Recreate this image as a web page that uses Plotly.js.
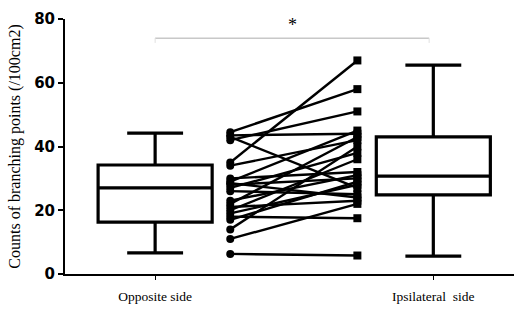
<!DOCTYPE html>
<html><head><meta charset="utf-8">
<script src="https://cdn.plot.ly/plotly-3.0.1.min.js"></script>
<style>html,body{margin:0;padding:0;background:#fff}#chart{width:514px;height:309px}</style>
</head><body><div id="chart"></div>
<script>
// Categories
const categories = ["Opposite side", "Ipsilateral  side"];
// Box summary values (Opposite, Ipsilateral)
const boxMin = [6.6, 5.6];
const boxQ1 = [16.3, 24.8];
const boxMedian = [27.0, 30.7];
const boxQ3 = [34.2, 43.0];
const boxMax = [44.2, 65.5];
// Paired individual values
const oppositeValues = [44.5, 43.5, 42, 43, 35, 34, 30, 29, 28.5, 28, 27, 26, 23, 22, 21, 20, 19, 18, 17, 14, 11, 6.3];
const ipsilateralValues = [58, 44, 51, 27, 67, 42, 32, 45, 24, 30, 38, 25, 31, 43, 23, 36, 28, 17.5, 29, 40, 22, 5.8];
const yTicks = [0, 20, 40, 60, 80];
const yTickLabels = ["0", "20", "40", "60", "80"];

const boxPos = [0, 1];
const pairPos = [0.27, 0.727];

const traces = [];
for (let i = 0; i < 2; i++) {
  traces.push({
    type: 'box', x: [boxPos[i]],
    q1: [boxQ1[i]], median: [boxMedian[i]], q3: [boxQ3[i]],
    lowerfence: [boxMin[i]], upperfence: [boxMax[i]],
    width: 0.41, whiskerwidth: 0.49,
    line: {color: '#000', width: 3.2}, fillcolor: '#fff',
    boxpoints: false, hoverinfo: 'skip', showlegend: false
  });
}
const lx = [], ly = [];
oppositeValues.forEach((v, i) => {
  lx.push(pairPos[0], pairPos[1], null);
  ly.push(v, ipsilateralValues[i], null);
});
traces.push({type: 'scatter', mode: 'lines', x: lx, y: ly, line: {color: '#000', width: 2.4}, showlegend: false, hoverinfo: 'skip'});
traces.push({type: 'scatter', mode: 'markers', x: oppositeValues.map(() => pairPos[0]), y: oppositeValues,
  marker: {symbol: 'circle', size: 8, color: '#000'}, showlegend: false, hoverinfo: 'skip'});
traces.push({type: 'scatter', mode: 'markers', x: ipsilateralValues.map(() => pairPos[1]), y: ipsilateralValues,
  marker: {symbol: 'square', size: 8, color: '#000'}, showlegend: false, hoverinfo: 'skip'});

const layout = {
  width: 514, height: 309,
  margin: {l: 65, r: 0, t: 19, b: 35},
  paper_bgcolor: '#fff', plot_bgcolor: '#fff',
  font: {color: '#000'},
  xaxis: {
    range: [-0.324, 1.29], tickvals: boxPos, ticktext: categories,
    showgrid: false, zeroline: false, showline: true, linecolor: '#000', linewidth: 2,
    ticks: 'outside', ticklen: 4, tickwidth: 1, tickcolor: '#000', ticklabelstandoff: 5,
    tickfont: {family: 'Liberation Serif', size: 13.5, color: '#000'}
  },
  yaxis: {
    range: [0, 80], tickvals: yTicks, ticktext: yTickLabels,
    showgrid: false, zeroline: false,
    showline: true, linecolor: '#000', linewidth: 2,
    ticks: 'outside', ticklen: 5, tickwidth: 2, tickcolor: '#000',
    tickfont: {family: 'DejaVu Sans', size: 15, color: '#000', weight: 'bold'},
    title: {text: 'Counts of branching points (/100cm2)', standoff: 10,
      font: {family: 'Liberation Serif', size: 16, color: '#000'}}
  },
  shapes: [
    {type: 'line', xref: 'x', yref: 'y', x0: boxPos[0], x1: 0.985, y0: 74, y1: 74, line: {color: '#c8c8c8', width: 1.5}},
    {type: 'line', xref: 'x', yref: 'y', x0: boxPos[0], x1: boxPos[0], y0: 74, y1: 72.5, line: {color: '#e0e0e0', width: 1}},
    {type: 'line', xref: 'x', yref: 'y', x0: 0.985, x1: 0.985, y0: 74, y1: 72.5, line: {color: '#e0e0e0', width: 1}}
  ],
  annotations: [
    {xref: 'x', yref: 'y', x: 0.494, y: 74.5, yanchor: 'bottom', text: '*', showarrow: false,
      font: {family: 'Liberation Serif', size: 18, color: '#000'}}
  ]
};
Plotly.newPlot('chart', traces, layout, {displayModeBar: false, staticPlot: true});
</script></body></html>
